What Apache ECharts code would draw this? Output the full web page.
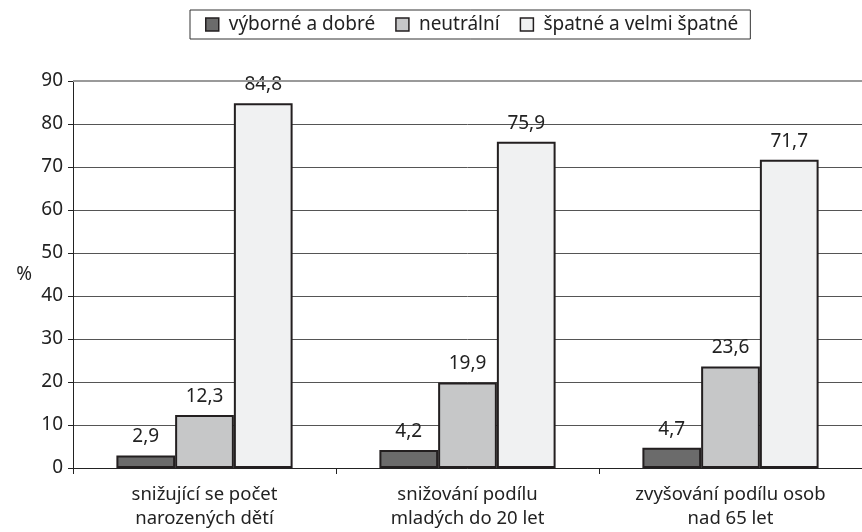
<!DOCTYPE html>
<html><head><meta charset="utf-8">
<script src="https://cdn.jsdelivr.net/npm/echarts@6/dist/echarts.min.js"></script>
<style>html,body{margin:0;padding:0;background:#fff}#c{width:862px;height:532px}</style>
</head><body><div id="c"></div>
<script>
const categories = ['snižující se počet\nnarozených dětí', 'snižování podílu\nmladých do 20 let', 'zvyšování podílu osob\nnad 65 let'];
const seriesNames = ['výborné a dobré', 'neutrální', 'špatné a velmi špatné'];
const goodValues = [2.9, 4.2, 4.7];
const neutralValues = [12.3, 19.9, 23.6];
const badValues = [84.8, 75.9, 71.7];
const yTicks = [0, 10, 20, 30, 40, 50, 60, 70, 80, 90];

const colors = ['#6b6b6b', '#c6c7c8', '#f0f1f2'];
const font = 'Noto Sans';
const chart = echarts.init(document.getElementById('c'));
const mk = (name, data, color) => ({
  name, type: 'bar', data, barGap: '0%', barCategoryGap: '33%',
  itemStyle: { color, borderColor: '#231f20', borderWidth: 2 },
  label: { show: true, position: 'top', distance: 9, color: '#222', fontFamily: font, fontSize: 19,
    formatter: p => String(p.value).replace('.', ',') }
});
const s3 = mk(seriesNames[2], badValues, colors[2]);
s3.markLine = { silent: true, symbol: 'none', label: { show: false },
  lineStyle: { color: '#9a9a9a', width: 2, type: 'solid' },
  data: [{ yAxis: yTicks[yTicks.length - 1] }] };
chart.setOption({
  animation: false,
  textStyle: { fontFamily: font },
  legend: {
    left: 190, top: 10,
    data: seriesNames,
    itemWidth: 13, itemHeight: 13, itemGap: 20,
    borderColor: '#333', borderWidth: 1, padding: [5, 12, 5, 15],
    textStyle: { fontFamily: font, fontSize: 19, color: '#222', padding: [0, 0, 0, 5] },
    icon: 'rect',
    itemStyle: { borderColor: '#231f20', borderWidth: 1.5 }
  },
  grid: { left: 73, right: -6, top: 81, bottom: 64, containLabel: false },
  xAxis: {
    type: 'category', data: categories,
    axisLine: { lineStyle: { color: '#222', width: 1 } },
    axisTick: { show: true, length: 6, lineStyle: { color: '#222' } },
    axisLabel: { fontFamily: font, fontSize: 18.5, color: '#222', lineHeight: 24, margin: 15 }
  },
  yAxis: {
    type: 'value', min: 0, max: 90, interval: 10,
    name: '%', nameLocation: 'middle', nameGap: 41, nameRotate: 0,
    nameTextStyle: { fontFamily: font, fontSize: 19, color: '#222' },
    axisLine: { show: true, lineStyle: { color: '#222' } },
    axisTick: { show: true, length: 5, lineStyle: { color: '#222' } },
    axisLabel: { fontFamily: font, fontSize: 19, color: '#222', margin: 10,
      formatter: v => yTicks.includes(v) ? String(v) : '' },
    splitLine: { lineStyle: { color: '#555', width: 1 } }
  },
  series: [
    mk(seriesNames[0], goodValues, colors[0]),
    mk(seriesNames[1], neutralValues, colors[1]),
    s3
  ]
});
</script></body></html>
